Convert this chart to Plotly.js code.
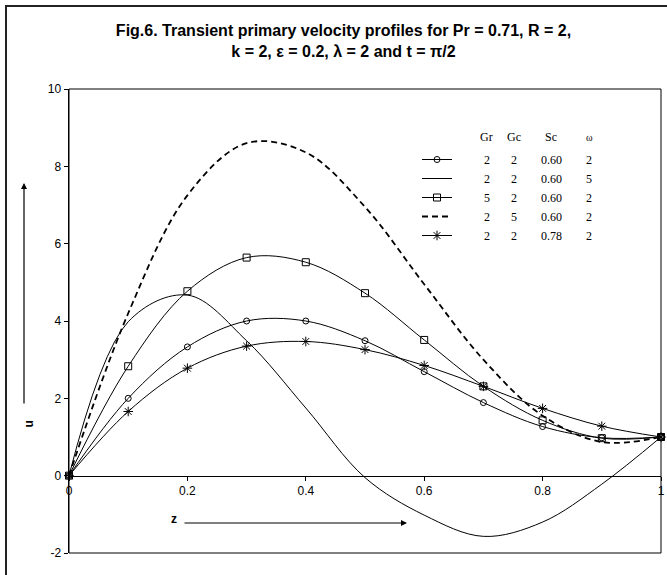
<!DOCTYPE html>
<html>
<head>
<meta charset="utf-8">
<script src="https://cdn.plot.ly/plotly-3.0.1.min.js"></script>
<style>
  html, body { margin: 0; padding: 0; background: #fff; }
  #wrap { position: relative; width: 667px; height: 575px; overflow: hidden; }
  #chart { position: absolute; left: 0; top: 0; width: 667px; height: 575px; }
  #frame { position: absolute; left: 5px; top: 5px; width: 700px; height: 700px;
           border-left: 2px solid #222; border-top: 2px solid #222; pointer-events: none; }
</style>
</head>
<body>
<div id="wrap">
  <div id="chart"></div>
  <div id="frame"></div>
</div>
<script>
// ---- data ----
var zValues = [0, 0.1, 0.2, 0.3, 0.4, 0.5, 0.6, 0.7, 0.8, 0.9, 1.0];

var uGr2Gc2Sc060W2 = [0, 2.0, 3.33, 4.0, 4.0, 3.49, 2.69, 1.89, 1.27, 0.98, 1.0];
var uGr2Gc2Sc060W5 = [0, 3.98, 4.67, 3.49, 1.75, -0.05, -1.02, -1.57, -1.2, -0.22, 1.0];
var uGr5Gc2Sc060W2 = [0, 2.83, 4.77, 5.64, 5.52, 4.72, 3.51, 2.31, 1.43, 0.97, 1.0];
var uGr2Gc5Sc060W2 = [0, 4.2, 7.25, 8.6, 8.36, 6.95, 4.95, 3.0, 1.55, 0.87, 1.0];
var uGr2Gc2Sc078W2 = [0, 1.66, 2.78, 3.35, 3.47, 3.26, 2.85, 2.31, 1.74, 1.28, 1.0];

var legendGr = ["2", "2", "5", "2", "2"];
var legendGc = ["2", "2", "2", "5", "2"];
var legendSc = ["0.60", "0.60", "0.60", "0.60", "0.78"];
var legendW  = ["2", "5", "2", "2", "2"];
var legendHeader = ["Gr", "Gc", "Sc", "\u03c9"];

var xTickVals = [0, 0.2, 0.4, 0.6, 0.8, 1];
var xTickText = ["0", "0.2", "0.4", "0.6", "0.8", "1"];
var yTickVals = [-2, 0, 2, 4, 6, 8, 10];
var yTickText = ["-2", "0", "2", "4", "6", "8", "10"];

// ---- helpers ----
function nb(n) { return "\u00a0".repeat(n); }
function legendName(i) {
  return nb(9) + legendGr[i] + nb(7) + legendGc[i] + nb(8) + legendSc[i] + nb(8) + legendW[i];
}

var series = [uGr2Gc2Sc060W2, uGr2Gc2Sc060W5, uGr5Gc2Sc060W2, uGr2Gc5Sc060W2, uGr2Gc2Sc078W2];
var styles = [
  {mode: "lines+markers", line: {color: "#000", width: 1}, marker: {symbol: "circle-open", size: 6, color: "#000", line: {width: 1}}},
  {mode: "lines", line: {color: "#000", width: 1}},
  {mode: "lines+markers", line: {color: "#000", width: 1}, marker: {symbol: "square-open", size: 7, color: "#000", line: {width: 1}}},
  {mode: "lines", line: {color: "#000", width: 1.8, dash: "6px,4px"}},
  {mode: "lines+markers", line: {color: "#000", width: 1}, marker: {symbol: "asterisk-open", size: 8, color: "#000", line: {width: 1}}}
];

var traces = series.map(function (s, i) {
  var t = {
    x: zValues, y: s, type: "scatter", name: legendName(i),
    mode: styles[i].mode, line: Object.assign({shape: "spline", smoothing: 1}, styles[i].line),
    cliponaxis: false
  };
  if (styles[i].marker) t.marker = styles[i].marker;
  return t;
});

// plot area in pixels
var L = 69, R = 661, T = 89, B = 553;
function px(xp) { return (xp - L) / (R - L); }
function py(yp) { return (B - yp) / (B - T); }

var headerX = [487, 514, 551, 589];
var annotations = legendHeader.map(function (h, i) {
  return {
    xref: "paper", yref: "paper", x: px(headerX[i]), y: py(137),
    text: h, showarrow: false, xanchor: "center", yanchor: "middle",
    font: {family: "Liberation Serif, Times New Roman, serif", size: i === 3 ? 10 : 12, color: "#000"}
  };
});

// axis labels and arrows
annotations.push({xref: "paper", yref: "paper", x: px(19), y: py(430), text: "<b>u</b>", textangle: -90,
  showarrow: false, font: {family: "Liberation Sans, Arial, sans-serif", size: 12, color: "#000"}});
annotations.push({xref: "paper", yref: "paper", x: px(24), y: py(183), text: "", showarrow: true,
  ax: 0, ay: 222, arrowhead: 2, arrowsize: 1, arrowwidth: 1.2, arrowcolor: "#000", standoff: 0, startstandoff: 0});
annotations.push({xref: "paper", yref: "paper", x: px(169), y: py(528), text: "<b>z</b>",
  showarrow: false, font: {family: "Liberation Sans, Arial, sans-serif", size: 12, color: "#000"}});
annotations.push({xref: "paper", yref: "paper", x: px(407), y: py(523), text: "", showarrow: true,
  ax: -224, ay: 0, arrowhead: 2, arrowsize: 1, arrowwidth: 1.2, arrowcolor: "#000", standoff: 0, startstandoff: 0});

var layout = {
  width: 667, height: 575,
  margin: {l: L, r: 667 - R, t: T, b: 575 - B, pad: 0},
  paper_bgcolor: "#fff", plot_bgcolor: "#fff",
  font: {family: "Liberation Sans, Arial, sans-serif", size: 12, color: "#000"},
  title: {
    text: "<b>Fig.6. Transient primary velocity profiles for Pr = 0.71, R = 2,<br>k = 2, \u03b5 = 0.2, \u03bb = 2 and t = \u03c0/2</b>",
    font: {family: "Liberation Sans, Arial, sans-serif", size: 16, color: "#000"},
    xref: "container", yref: "container", x: 0.515, xanchor: "center", y: 1 - 36 / 575, yanchor: "top"
  },
  showlegend: true,
  legend: {
    x: px(417), y: py(145), xanchor: "left", yanchor: "top",
    bgcolor: "rgba(0,0,0,0)", borderwidth: 0, traceorder: "normal",
    font: {family: "Liberation Serif, Times New Roman, serif", size: 12, color: "#000"}
  },
  xaxis: {
    range: [0, 1], tickvals: xTickVals, ticktext: xTickText,
    anchor: "free", position: 1 / 6,
    showline: true, linecolor: "#000", linewidth: 1,
    ticks: "outside", ticklen: 4, tickcolor: "#000", tickwidth: 1,
    showgrid: false, zeroline: false,
    tickfont: {family: "Liberation Sans, Arial, sans-serif", size: 12, color: "#000"}
  },
  yaxis: {
    range: [-2, 10], tickvals: yTickVals, ticktext: yTickText,
    showline: true, linecolor: "#000", linewidth: 1.5,
    ticks: "outside", ticklen: 4, tickcolor: "#000", tickwidth: 1,
    showgrid: false, zeroline: false,
    tickfont: {family: "Liberation Sans, Arial, sans-serif", size: 12, color: "#000"}
  },
  shapes: [
    {type: "rect", xref: "paper", yref: "paper", x0: 0, x1: 1, y0: 0, y1: 1,
     line: {color: "#000", width: 1}, fillcolor: "rgba(0,0,0,0)", layer: "below"}
  ],
  annotations: annotations
};

Plotly.newPlot("chart", traces, layout, {displayModeBar: false, staticPlot: true});
</script>
</body>
</html>
